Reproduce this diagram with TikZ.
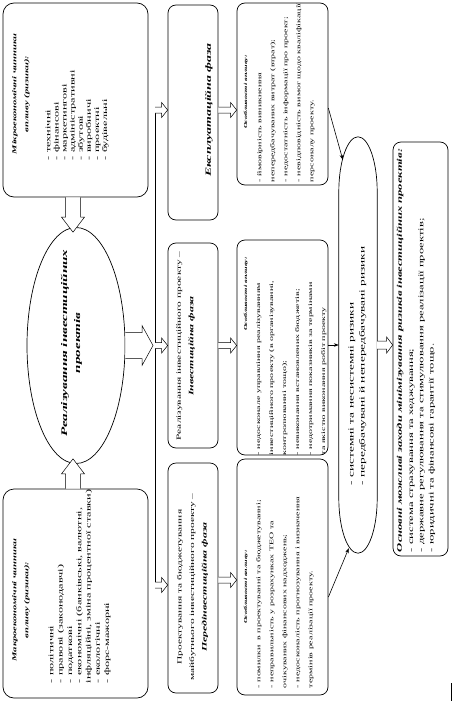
\documentclass[tikz,border=0pt]{standalone}
\usepackage{fontspec}
\setmainfont{Liberation Serif}
\usetikzlibrary{calc,shapes.geometric,arrows.meta}
\newcommand\fItem{\fontsize{7}{8.1}\selectfont}
\newcommand\fItemB{\fontsize{7}{9.3}\selectfont}
\newcommand\fHead{\fontsize{6}{12}\selectfont\bfseries\itshape}
\newcommand\fEll{\fontsize{8.6}{13}\selectfont\bfseries\itshape}
\newcommand\fPh{\fontsize{6.5}{12.5}\selectfont}
\newcommand\fPhI{\fontsize{6.8}{12.5}\selectfont\bfseries\itshape}
\newcommand\fPhB{\fontsize{7.9}{12.5}\selectfont\bfseries\itshape}
\newcommand\fFeat{\fontsize{5.7}{13}\selectfont}
\newcommand\fFeatH{\fontsize{4.6}{13}\selectfont\bfseries\itshape}
\newcommand\fRe{\fontsize{7.6}{11}\selectfont}
\newcommand\fRb{\fontsize{7.2}{10.2}\selectfont}
\newcommand\fRbH{\fontsize{7.2}{10}\selectfont\bfseries\itshape}
% rotated, stretched text node: name, position, stretch, options, text
\newcommand\rtext[5]{%
  \begin{scope}[shift={#2}, rotate=90, xscale=#3]
    \node[transform shape, inner sep=0pt, outer sep=0pt, #4] (#1) at (0,0) {#5};
  \end{scope}}
% hollow block arrow: start, end, shaft half width, head half width, head length
\newcommand\blockarrow[5]{%
  \draw[barrow] let \p1=(#1), \p2=(#2),
     \n1={veclen(\x2-\x1,\y2-\y1)}, \n2={atan2(\y2-\y1,\x2-\x1)} in
     [shift={(\x1,\y1)}, rotate=\n2]
     (0pt,{#3*1pt}) -- ({\n1*1pt-#5*1pt},{#3*1pt}) -- ({\n1*1pt-#5*1pt},{#4*1pt})
     -- ({\n1*1pt},0pt) -- ({\n1*1pt-#5*1pt},{-#4*1pt}) -- ({\n1*1pt-#5*1pt},{-#3*1pt})
     -- (0pt,{-#3*1pt});}
\begin{document}
\begin{tikzpicture}[x=1pt,y=-1pt,
  bigbox/.style={draw, rounded corners=11pt, line width=0.7pt, inner sep=0pt},
  smallbox/.style={draw, rounded corners=8pt, line width=0.7pt, inner sep=0pt},
  barrow/.style={draw, fill=white, line width=0.5pt, line join=miter},
  conn/.style={line width=0.6pt, -{Stealth[length=5pt,width=3.6pt]}},
  lst/.style={align=left, anchor=north west},
  ctr/.style={align=center}]
\fill[white] (0,0) rectangle (453,701);
\useasboundingbox (0,0) rectangle (453,701);

% left column
\node[bigbox, minimum width=145pt, minimum height=194pt] (micro) at (75.5,100) {};
\node[bigbox, minimum width=145pt, minimum height=209pt] (macro) at (75.5,593.5) {};
\node[draw, ellipse, line width=0.7pt, inner sep=0pt, minimum width=98pt, minimum height=236pt] (ell) at (76,345.5) {};

\rtext{microh}{(21,94)}{1.75}{ctr, font=\fHead}{Мікроекономічні чинники\\впливу (ризики):}
\rtext{microl}{(45.8,160)}{1.75}{lst, font=\fItem}{- технічні\\- фінансові\\- маркетингові\\- адміністративні\\- збутові\\- виробничі\\- проектні\\- будівельні}

\rtext{macroh}{(21,600)}{1.75}{ctr, font=\fHead}{Макроекономічні чинники\\впливу (ризики):}
\rtext{macrol}{(48.8,683)}{1.75}{lst, font=\fItemB}{- політичні\\- правові (законодавчі)\\- податкові\\- економічні (банківські, валютні,\\інфляційні, зміна процентної ставки)\\- екологічні\\- форс-мажорні}

\rtext{ellt}{(71.5,343)}{1.75}{ctr, font=\fEll}{Реалізування інвестиційних\\проектів}

% phase boxes
\node[smallbox, minimum width=50pt, minimum height=215pt] (exp) at (193,112.5) {};
\node[smallbox, minimum width=50pt, minimum height=205pt] (inv) at (193,345.5) {};
\node[smallbox, minimum width=50pt, minimum height=230pt] (pre) at (193,578) {};

\rtext{expt}{(209,110)}{1.75}{ctr, font=\fPhB}{Експлуатаційна фаза}
\rtext{invt}{(185.5,346)}{1.75}{ctr, font=\fPh}{Реалізування інвестиційного проекту –\\{\fPhI Інвестиційна фаза}}
\rtext{pret}{(192.5,587)}{1.75}{ctr, font=\fPh}{Проектування та бюджетування\\майбутнього інвестиційного проекту –\\{\fPhI Передінвестиційна фаза}}

% feature boxes
\node[smallbox, minimum width=91pt, minimum height=182pt] (fexp) at (282.5,94) {};
\node[smallbox, minimum width=91pt, minimum height=215pt] (finv) at (282.5,347.5) {};
\node[smallbox, minimum width=91pt, minimum height=236pt] (fpre) at (282.5,577) {};

\rtext{fexph}{(246,92)}{1.75}{ctr, font=\fFeatH}{Особливості впливу:}
\rtext{fexpl}{(257.4,182)}{1.75}{lst, font=\fFeat}{- ймовірність виникнення\\непередбачуваних витрат (втрат);\\- недостатність інформації про проект;\\- невідповідність вимог щодо кваліфікації\\персоналу проекту.}

\rtext{finvh}{(246,294)}{1.75}{ctr, font=\fFeatH}{Особливості впливу:}
\rtext{finvl}{(256.4,455)}{1.75}{lst, font=\fFeat}{- недосконале управління реалізуванням\\інвестиційного проекту (в організуванні,\\контролюванні тощо);\\- невиконання встановлених бюджетів;\\- недотримання показників за термінами\\та якістю виконання робіт проекту}

\rtext{fpreh}{(246,587)}{1.75}{ctr, font=\fFeatH}{Особливості впливу:}
\rtext{fprel}{(256.4,688)}{1.75}{lst, font=\fFeat}{- помилки \ в проектуванні та бюджетуванні;\\- неправильність у розрахунках ТЕО та\\очікуваних фінансових надходжень;\\- недосконалість прогнозування і визначення\\термінів реалізації проекту.}

% right risk shape (stadium-like oval)
\node[inner sep=0pt, minimum width=38pt, minimum height=416pt] (re) at (358,345) {};
\draw[line width=0.7pt] (re.north)
  .. controls ($(re.north)+(-10.5,0)$) and ($(re.north west)+(0,24.6)$) .. ($(re.north west)+(0,55)$)
  -- ($(re.south west)+(0,-55)$)
  .. controls ($(re.south west)+(0,-24.6)$) and ($(re.south)+(-10.5,0)$) .. (re.south)
  .. controls ($(re.south)+(10.5,0)$) and ($(re.south east)+(0,-24.6)$) .. ($(re.south east)+(0,-55)$)
  -- ($(re.north east)+(0,55)$)
  .. controls ($(re.north east)+(0,24.6)$) and ($(re.north)+(10.5,0)$) .. (re.north) -- cycle;
\rtext{rel}{(348.6,485)}{1.75}{lst, font=\fRe}{- системні та несистемні ризики\\- передбачувані й непередбачувані ризики}

% right box
\node[smallbox, minimum width=55pt, minimum height=414pt] (rb) at (420.5,349) {};
\rtext{rbh}{(400,552)}{1.75}{anchor=west, font=\fRbH}{Основні можливі заходи мінімізування ризиків інвестиційних проектів:}
\rtext{rbl}{(409.8,552)}{1.75}{lst, font=\fRb}{- система страхування та хеджування;\\- державне регулювання та стимулювання реалізації проектів;\\- юридичні та фінансові гарантії тощо.}

% distribution line
\coordinate (vtop) at (155,110);
\coordinate (vmid) at (155,345.5);
\coordinate (vbot) at (155,585);
\coordinate (pmid) at (220,580);
\coordinate (ax) at (73,0);
\draw[line width=0.7pt] (vtop) -- (vbot);

% block arrows
\blockarrow{micro.south -| ax}{$(ell.north -| ax)+(0,5)$}{7.5}{11.5}{15}
\blockarrow{macro.north -| ax}{$(ell.south -| ax)+(0,-5)$}{7.5}{11.5}{15}
\blockarrow{ell.east}{$(vmid)+(-2,0)$}{13}{20}{11}
\blockarrow{vtop}{exp.west |- vtop}{3}{7.5}{6}
\blockarrow{vmid}{inv.west |- vmid}{3}{7.5}{6}
\blockarrow{vbot}{pre.west |- vbot}{3}{7.5}{6}
\blockarrow{exp.east |- vtop}{fexp.west |- vtop}{3}{7.5}{6}
\blockarrow{inv.east |- vmid}{finv.west |- vmid}{3}{7.5}{6}
\blockarrow{pre.east |- pmid}{fpre.west |- pmid}{3}{7.5}{6}
\blockarrow{re.east}{rb.west |- re.east}{4}{8}{6}

% thin connectors to the risk oval
\draw[conn] ($(fexp.north east)!0.577!(fexp.south east)$) -- ($(re.north west)+(4,23)$);
\draw[conn] (finv.east |- re.west) -- (re.west);
\draw[conn] ($(fpre.north east)!0.585!(fpre.south east)$) -- ($(re.south west)+(10,-5)$);

% small mark at lower right
\draw[line width=1pt] (451.5,683) -- (451.5,701);
\end{tikzpicture}
\end{document}
